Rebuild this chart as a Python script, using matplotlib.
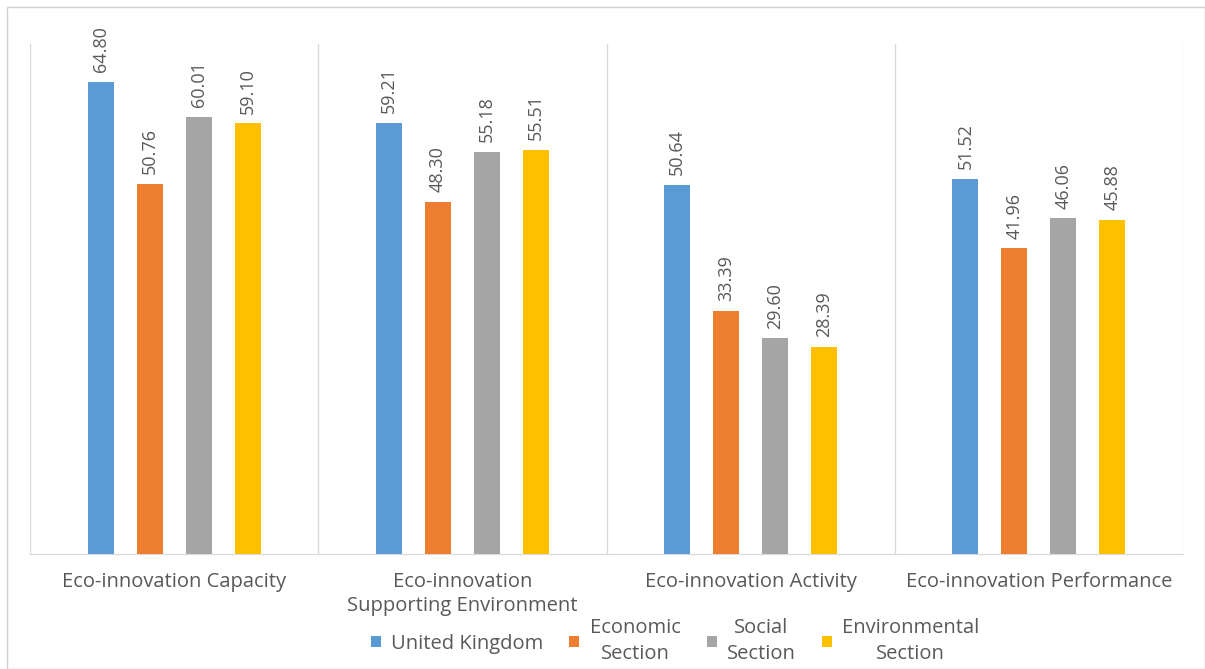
import matplotlib
matplotlib.use("Agg")
import matplotlib.pyplot as plt
import numpy as np
from matplotlib.patches import Rectangle

categories = ["Eco-innovation Capacity", "Eco-innovation\nSupporting Environment",
              "Eco-innovation Activity", "Eco-innovation Performance"]
series_names = ["United Kingdom", "Economic\nSection", "Social\nSection", "Environmental\nSection"]
uk = [64.80, 59.21, 50.64, 51.52]
economic = [50.76, 48.30, 33.39, 41.96]
social = [60.01, 55.18, 29.60, 46.06]
environmental = [59.10, 55.51, 28.39, 45.88]
colors = ["#5b9bd5", "#ed7d31", "#a5a5a5", "#ffc000"]

plt.rcParams['font.family'] = ['Open Sans', 'DejaVu Sans']
text_color = "#595959"

fig = plt.figure(figsize=(12.05, 6.69), dpi=100)
ax = fig.add_axes([30/1205, 115/669, (1183-30)/1205, (554-44)/669])

x = np.arange(len(categories))
width = 0.09
spacing = 0.17
all_series = [uk, economic, social, environmental]
for i, (vals, name, c) in enumerate(zip(all_series, series_names, colors)):
    offs = (i - 1.5) * spacing
    bars = ax.bar(x + offs, vals, width, color=c, label=name, zorder=3)
    for b, v in zip(bars, vals):
        ax.annotate(f"{v:.2f}", (b.get_x() + b.get_width()/2, v),
                    xytext=(0, 7), textcoords="offset points",
                    rotation=90, ha="center", va="bottom",
                    fontsize=13, color=text_color)

ax.set_xlim(-0.5, len(categories) - 0.5)
ax.set_ylim(0, 70)
ax.set_yticks([])
ax.set_xticks(x)
ax.set_xticklabels(categories, fontsize=14.5, color=text_color, linespacing=1.25)
ax.tick_params(axis='x', length=0, pad=13)
for s in ["top", "right", "left"]:
    ax.spines[s].set_visible(False)
ax.spines["bottom"].set_color("#d9d9d9")
for b in np.arange(-0.5, len(categories), 1.0):
    ax.axvline(b, color="#d9d9d9", lw=1, zorder=1)

leg = fig.legend(loc="center", bbox_to_anchor=(675/1205, 1 - 641/669), ncol=4,
                 frameon=False, fontsize=14.5, handlelength=0.5, handleheight=0.5,
                 handletextpad=0.5, columnspacing=1.3)
for t in leg.get_texts():
    t.set_color(text_color)
    t.set_multialignment("center")
    t.set_linespacing(1.35)

fig.patches.append(Rectangle((7/1205, 0), 1 - 7/1205, 1 - 7/669, transform=fig.transFigure,
                             fill=False, edgecolor="#d0d0d0", lw=1))

fig.savefig("out.png", dpi=100, facecolor="white")
